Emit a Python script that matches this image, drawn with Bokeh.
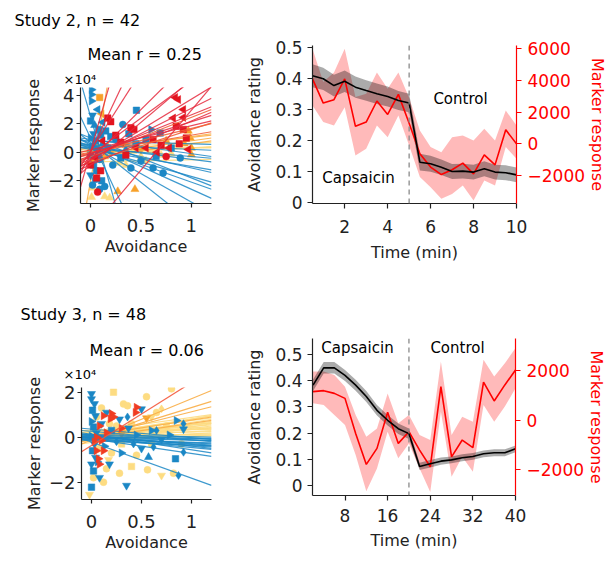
import math
from bokeh.plotting import figure
from bokeh.models import Range1d, LinearAxis, Span, Label, FixedTicker, ColumnDataSource, Title
from bokeh.layouts import column, row
from bokeh.embed import file_html
from bokeh.resources import INLINE

FONT = "DejaVu Sans"

# ---------------- Study 2 time course ----------------
s2_time = [0.5, 1.0, 1.5, 2.0, 2.5, 3.0, 3.5, 4.0, 4.5, 5.0,
           5.5, 6.0, 6.5, 7.0, 7.5, 8.0, 8.5, 9.0, 9.5, 10.0]
s2_avoid = [0.41, 0.40, 0.378, 0.392, 0.373, 0.362, 0.352, 0.343, 0.33, 0.322,
            0.131, 0.126, 0.115, 0.101, 0.102, 0.099, 0.11, 0.099, 0.097, 0.09]
s2_avoid_sem = [0.037, 0.036, 0.035, 0.035, 0.034, 0.033, 0.033, 0.032, 0.031, 0.030,
                0.027, 0.026, 0.025, 0.024, 0.024, 0.024, 0.024, 0.024, 0.024, 0.024]
s2_marker = [4100, 2570, 2780, 4100, 1100, 1370, 2700, 1850, 3120, 1300,
             -630, -1470, -1940, -1640, -1220, -1900, -700, -1330, 880, 0]
s2_marker_lo = [2420, 1370, 1160, 2300, -740, -320, 1160, 420, 1790, -100,
                -2100, -2740, -3470, -3160, -2630, -3580, -2320, -2630, -210, -950]
s2_marker_hi = [6000, 3900, 4500, 6000, 2950, 3150, 4500, 3470, 4500, 2900,
                840, -210, -530, 420, 530, 210, 950, 210, 2100, 1160]

# ---------------- Study 3 time course ----------------
s3_time = [2, 4, 6, 8, 10, 12, 14, 16, 18, 20,
           22, 24, 26, 28, 30, 32, 34, 36, 38, 40]
s3_avoid = [0.383, 0.449, 0.449, 0.42, 0.383, 0.34, 0.287, 0.249, 0.217, 0.198,
            0.073, 0.083, 0.093, 0.098, 0.106, 0.111, 0.121, 0.125, 0.125, 0.14]
s3_avoid_sem = [0.022, 0.022, 0.022, 0.021, 0.021, 0.021, 0.02, 0.02, 0.02, 0.02,
                0.014, 0.014, 0.014, 0.013, 0.013, 0.013, 0.013, 0.013, 0.013, 0.013]
s3_marker = [1140, 1180, 1070, 870, -540, -1785, -1140, 310, -940, -470,
             -1210, -1880, 1340, -1480, -805, -1110, 1520, 765, 1410, 2010]
s3_marker_lo = [670, 600, 200, -200, -1410, -2860, -1950, -470, -1540, -940,
                -1950, -2890, 335, -2280, -1480, -2080, 600, -70, 540, 1275]
s3_marker_hi = [1950, 1950, 1810, 1340, 200, -670, -340, 1070, -130, 200,
                -600, -800, 2350, -600, 130, -70, 2420, 1745, 2280, 2890]

# ---------------- Study 2 per-subject regressions (marker x1e4 vs avoidance) ----------------
tl_red_slope = [4.3, 3.54, 2.85, 6.0, 7.0, 15.0, 11.1, 25.0, 8.4, 2.23, 1.7, 3.08, 5.2]
tl_red_icpt = [-0.57, -0.45, -0.22, -0.9, -0.5, 0.0, 0.11, 0.05, -5.45, -0.08, 0.17, -0.89, -0.2]
tl_ored_slope = [2.77, 1.7, 2.3, 1.2]
tl_ored_icpt = [-0.32, -0.03, -0.7, 0.0]
tl_orange_slope = [1.0, 1.0, 0.77, 1.0, 40.0]
tl_orange_icpt = [0.1, -0.2, 0.28, -0.4, -2.0]
tl_yellow_slope = [0.3, -0.15, 0.46, 0.15, 0.2]
tl_yellow_icpt = [0.33, 0.48, -0.15, -0.68, 0.1]
tl_blue_slope = [-25.0, -15.0, -5.6, -4.0, -3.2, -2.5, -2.0, -1.6, -1.2, -0.9, -0.6, -0.3, -0.2, -1.0, -2.8]
tl_blue_icpt = [2.5, 1.0, 0.69, 0.5, 0.6, 0.4, 0.3, 0.5, 0.2, 0.4, 0.3, 0.5, 0.8, 0.9, 1.0]

# Study 2 points: avoidance, marker (x1e4), marker shape
tl_blue_x = [0.01, 0.01, 0.01, 0.07, 0.02, 0.0, 0.04, 0.08, 0.03, 0.1, 0.0, 0.05, 0.12, 0.02, 0.06, 0.0,
             0.09, 0.03, 0.06, 0.0, 0.05, 0.09, 0.14, 0.11, 0.15, 0.2, 0.25, 0.32, 0.455, 0.38, 0.45, 0.6,
             0.69, 0.55, 0.3, 0.22, 0.4, 0.5, 0.62, 0.72, 0.89, 0.8, 0.65, 0.12, 0.08, 0.17, 0.35, 0.02]
tl_blue_y = [4.4, 4.05, 3.6, 3.0, 2.6, 2.2, 1.9, 1.6, 1.3, 1.2, 1.0, 0.8, 0.6, 0.4, 0.1, -0.2,
             -0.5, -0.9, -1.3, -1.6, -1.9, -2.6, -2.4, -2.0, 1.5, 1.1, 0.9, 1.95, 2.95, 1.3, 0.6, 1.6,
             1.35, 0.9, -0.4, -0.9, -1.1, -0.6, -1.1, -1.45, -0.4, 0.3, -0.3, 2.1, -0.2, 0.3, 0.2, -2.3]
tl_blue_m = "rrrldsusdsrsusdscscdcccsssccsssrsssccccccssllsmc"
tl_red_x = [0.17, 0.2, 0.4, 0.43, 0.84, 0.87, 0.92, 0.82, 0.92, 0.85, 0.92, 0.62, 0.7, 0.78, 0.88,
            0.66, 0.75, 0.55, 0.3, 0.25, 0.12, 0.05, 0.06, 0.1, 0.07, 0.0, 0.35, 0.45, 0.95, 0.97]
tl_red_y = [2.4, 2.15, 1.72, 1.6, 3.85, 3.7, 3.0, 2.4, 2.45, 1.83, 1.6, 0.9, 0.5, 0.3, 0.6,
            0.0, -0.3, 0.3, 0.7, 1.2, 0.8, -0.4, -1.8, -1.3, -2.8, -0.9, -0.2, 0.3, 1.0, 0.2]
tl_red_m = "sssslllllssssls" + "lclssllsscssls" + "l"
tl_orange_x = [0.09, 0.11, 0.06, 0.1, 0.14, 0.17, 0.2, 0.27, 0.44, 0.97, 0.99, 1.0, 1.0, 0.93, 0.0,
               0.03, 0.5, 0.35, 0.75]
tl_orange_y = [3.85, 2.7, 0.5, 0.1, -0.3, 0.4, 0.0, -2.75, -2.6, 1.5, 1.0, 0.3, -0.17, 0.6, 0.2,
               -0.6, 0.2, 0.5, 0.8]
tl_orange_m = "sluuuuduuuuuuuuddu" + "u"
tl_yellow_x = [0.01, 0.14, 0.19, 0.02, 0.29, 0.42, 0.5, 0.6, 0.7, 0.23, 0.08, 0.35, 0.8, 0.55, 0.12]
tl_yellow_y = [-3.15, -3.1, -3.2, -2.5, -0.75, 0.07, -0.3, 0.1, -0.2, 0.0, 0.3, -0.9, -0.1, -0.6, -0.5]
tl_yellow_m = "uuuuuuuuuuuuuud"

# ---------------- Study 3 per-subject regressions ----------------
bl_red_slope = [2.8]
bl_red_icpt = [-0.37]
bl_orange_slope = [1.83, 1.38, 1.12, 0.69, 0.65]
bl_orange_icpt = [-0.12, -0.06, 0.01, 0.07, -0.03]
bl_yellow_slope = [0.62, 0.58, 0.69, 0.5, 0.35, 0.54, 0.27, 0.23, 0.12, 0.23, 0.12, -0.04,
                   0.08, 0.12, 0.69, 0.12, 0.65, 0.69, 0.4, 0.3, 0.45, 0.18, 0.8, 0.05]
bl_yellow_icpt = [0.26, 0.16, -0.03, 0.05, 0.13, -0.15, 0.08, 0.02, 0.11, -0.08, 0.01, 0.15,
                  -0.04, 0.21, -0.23, 0.31, -0.08, 0.12, -0.05, 0.25, 0.1, -0.12, 0.0, 0.3]
bl_blue_slope = [-1.6, -0.38, -0.04, -0.15, -0.23, -0.38, -0.42, -0.69, -0.12, -0.65, -0.15, -0.38,
                 -0.31, -0.08, -0.2, -0.5, -0.1, -0.28]
bl_blue_icpt = [-0.22, 0.36, 0.0, 0.03, -0.02, 0.06, -0.04, 0.13, -0.11, -0.07, 0.09, 0.26,
                0.02, -0.05, -0.15, 0.1, 0.12, -0.1]

bl_blue_x = [0.0, 0.0, 0.03, 0.01, 0.04, 0.0, 0.02, 0.05, 0.0, 0.03, 0.01, 0.04, 0.0, 0.02, 0.06, 0.0,
             0.1, 0.13, 0.18, 0.2, 0.25, 0.28, 0.36, 0.37, 0.3, 0.35, 0.42, 0.45, 0.5, 0.57, 0.62, 0.6,
             0.65, 0.7, 0.84, 0.92, 0.87, 0.85, 0.92, 0.92, 0.78, 0.15, 0.08, 0.5]
bl_blue_y = [1.93, 1.7, 1.48, 1.2, 0.95, 0.7, 0.45, 0.2, 0.05, -0.3, -0.6, -0.9, -1.2, -1.5, -1.1, -2.22,
             0.6, -0.4, -1.2, 0.3, -0.2, 0.8, 0.9, 0.4, -0.7, -2.15, -0.3, 0.1, -0.5, -0.89, -0.44, 0.3,
             0.3, -0.1, -0.96, -0.67, -1.7, 0.74, 0.6, 0.36, 0.1, 1.1, -1.8, 1.25]
bl_blue_m = "dddsdrsdrdsddsrs" + "drdsmdmdrdmrdumrmdsmmrmdrddd"
bl_yellow_x = [0.22, 0.8, 0.32, 0.36, 0.65, 0.7, 0.56, 0.82, -0.02, 0.17, 0.1, 0.05, 0.12, 0.08, 0.2,
               0.25, 0.3, 0.4, 0.45, 0.5, 0.6, 0.75, 0.9, 0.02, 0.15, 0.28, 0.4, 0.6, 0.03, 0.18, 0.7,
               0.55, 0.12]
bl_yellow_y = [2.0, 2.15, 1.48, 1.4, 1.1, 1.26, -1.45, -1.6, -2.55, -1.0, 1.3, 0.9, 0.2, -0.5, -0.7,
               0.5, -0.3, 0.6, -0.8, 0.2, -0.3, 0.5, -0.3, -1.8, -1.4, -1.6, -1.3, 0.9, 0.3, 0.6, -1.7,
               1.8, -2.0]
bl_yellow_m = "sccccmccddcccscc" + "sccsccccccsdccdcc"
bl_red_x = [0.45, 0.2, 0.12, 0.22, 0.44, 0.19, 0.05, 0.07, 0.08, 0.05, 0.1, 0.03, 0.15, 0.12, 0.3, 0.08]
bl_red_y = [1.33, 1.05, 0.95, 0.9, 1.1, 0.82, -0.6, -0.96, -1.2, 0.0, -0.15, -0.2, 0.2, -0.6, 0.4, 0.5]
bl_red_m = "rrrrrrrrrrrrrrrr"
bl_orange_x = [0.55, 0.3]
bl_orange_y = [0.85, 0.15]
bl_orange_m = "dd"

# ---------------- colours ----------------
BLUE = "#1b87c5"
RED = "#e3141f"
RED_LINE = "#e5283c"
ORED = "#f2613a"
ORANGE = "#f7a028"
ORANGE_LINE = "#f9ad45"
YELLOW = "#fddc82"
BL_RED = "#f03c22"
BL_RED_LINE = "#f4573a"

MK = {"u": ("triangle", 0.0), "d": ("inverted_triangle", 0.0), "l": ("triangle", math.pi / 2),
      "r": ("triangle", -math.pi / 2), "s": ("square", 0.0), "c": ("circle", 0.0), "m": ("diamond", 0.0)}
MSIZE = {"triangle": 8, "inverted_triangle": 8, "square": 6.5, "circle": 7, "diamond": 8}


def base_fig(w, h, xr, yr, ml, mr, mt, mb):
    p = figure(width=w, height=h, x_range=Range1d(*xr), y_range=Range1d(*yr),
               output_backend="svg", toolbar_location=None, title=None,
               min_border_left=ml, min_border_right=mr, min_border_top=mt, min_border_bottom=mb)
    p.outline_line_color = None
    p.xgrid.visible = False
    p.ygrid.visible = False
    return p


def style_axis(ax, color, tick_size, label_size, standoff, label_standoff):
    ax.axis_line_color = color
    ax.axis_line_width = 1.2
    ax.major_tick_line_color = color
    ax.major_tick_line_width = 1.2
    ax.minor_tick_line_color = None
    ax.major_tick_in = 0
    ax.major_tick_out = 5
    ax.major_label_text_font = FONT
    ax.major_label_text_font_size = tick_size
    ax.major_label_text_color = color
    ax.major_label_standoff = standoff
    ax.axis_label_text_font = FONT
    ax.axis_label_text_font_size = label_size
    ax.axis_label_text_font_style = "normal"
    ax.axis_label_text_color = color
    ax.axis_label_standoff = label_standoff


class Geo:
    def __init__(self, l, r, t, b, xr, yr):
        self.l, self.r, self.t, self.b, self.xr, self.yr = l, r, t, b, xr, yr

    def x(self, px):
        return self.xr[0] + (px - self.l) / (self.r - self.l) * (self.xr[1] - self.xr[0])

    def y(self, py):
        return self.yr[1] - (py - self.t) / (self.b - self.t) * (self.yr[1] - self.yr[0])


def add_label(p, x, y, text, size="15px", align="center", baseline="middle", color="black"):
    p.add_layout(Label(x=x, y=y, text=text, text_font=FONT, text_font_size=size,
                       text_align=align, text_baseline=baseline, text_color=color))


def add_title(p, text, offset, size, standoff):
    p.add_layout(Title(text=text, align="left", offset=offset, standoff=standoff,
                       text_font=FONT, text_font_size=size, text_font_style="normal",
                       text_color="black"), "above")


def draw_lines(p, slopes, icpts, color, xr, alpha=0.9, width=1.2):
    x0, x1 = xr
    xs = [[x0, x1] for _ in slopes]
    ys = [[a + b * x0, a + b * x1] for b, a in zip(slopes, icpts)]
    p.multi_line(xs, ys, line_color=color, line_width=width, line_alpha=alpha)


def draw_pts(p, xs, ys, ms, color):
    src = ColumnDataSource(dict(x=xs, y=ys,
                                marker=[MK[m][0] for m in ms],
                                angle=[MK[m][1] for m in ms],
                                size=[MSIZE[MK[m][0]] for m in ms]))
    p.scatter("x", "y", source=src, marker="marker", angle="angle", size="size",
              fill_color=color, line_color=color, line_width=0.5)


def style_scatter_axes(p):
    for ax in list(p.xaxis) + list(p.yaxis):
        style_axis(ax, "#222222", "18px", "16px", 4, 4)
    p.xaxis.major_tick_out = 4
    p.yaxis.major_tick_out = 4
    p.xaxis.major_label_standoff = 11
    p.yaxis.major_label_standoff = 2
    p.yaxis.axis_label_standoff = 2
    p.xaxis.axis_label_standoff = 2


# ================= top-left: Study 2 scatter =================
tl_xr, tl_yr = (-0.1, 1.2), (-3.6, 4.55)
tl = base_fig(230, 285, tl_xr, tl_yr, 80, 19, 87, 82)
draw_pts(tl, tl_yellow_x, tl_yellow_y, tl_yellow_m, YELLOW)
draw_lines(tl, tl_yellow_slope, tl_yellow_icpt, YELLOW, tl_xr)
draw_pts(tl, tl_orange_x, tl_orange_y, tl_orange_m, ORANGE)
draw_lines(tl, tl_orange_slope, tl_orange_icpt, ORANGE_LINE, tl_xr)
draw_pts(tl, tl_blue_x, tl_blue_y, tl_blue_m, BLUE)
draw_lines(tl, tl_blue_slope, tl_blue_icpt, BLUE, tl_xr, alpha=0.85)
draw_pts(tl, tl_red_x, tl_red_y, tl_red_m, RED)
draw_lines(tl, tl_ored_slope, tl_ored_icpt, ORED, tl_xr)
draw_lines(tl, tl_red_slope, tl_red_icpt, RED_LINE, tl_xr, alpha=0.85)
tl.xaxis.ticker = FixedTicker(ticks=[0, 0.5, 1])
tl.xaxis.major_label_overrides = {0: "0", 1: "1"}
tl.yaxis.ticker = FixedTicker(ticks=[-2, 0, 2, 4])
tl.xaxis.axis_label = "Avoidance"
tl.yaxis.axis_label = "Marker response"
style_scatter_axes(tl)
add_title(tl, "\u00d710\u2074", -17, "13px", 1)
add_title(tl, "Mean r = 0.25", 7, "16px", 11)
add_title(tl, "Study 2, n = 42", -66, "16px", 16)

# ================= top-right: Study 2 time course =================
tr_g = Geo(312, 516, 45, 203, (0.5, 10), (-0.0023, 0.5074))
tr = base_fig(384, 285, tr_g.xr, tr_g.yr, 82, 98, 45, 82)
tr.extra_y_ranges = {"mk": Range1d(-3767, 6202)}
tr.varea(x=s2_time, y1=s2_marker_lo, y2=s2_marker_hi, fill_color="red", fill_alpha=0.27, y_range_name="mk")
tr.varea(x=s2_time, y1=[m - s for m, s in zip(s2_avoid, s2_avoid_sem)],
         y2=[m + s for m, s in zip(s2_avoid, s2_avoid_sem)], fill_color="black", fill_alpha=0.33)
tr.line(s2_time, s2_marker, line_color="red", line_width=1.6, y_range_name="mk")
tr.line(s2_time, s2_avoid, line_color="black", line_width=1.6)
tr.add_layout(Span(location=5, dimension="height", line_color="#8a8a8a", line_dash="5 4", line_width=1.3))
tr_right = LinearAxis(y_range_name="mk", axis_label="Marker response")
tr.add_layout(tr_right, "right")
tr.xaxis.ticker = FixedTicker(ticks=[2, 4, 6, 8, 10])
tr.yaxis[0].ticker = FixedTicker(ticks=[0, 0.1, 0.2, 0.3, 0.4, 0.5])
tr.yaxis[0].major_label_overrides = {0: "0"}
tr_right.ticker = FixedTicker(ticks=[-2000, 0, 2000, 4000, 6000])
tr.xaxis.axis_label = "Time (min)"
tr.yaxis[0].axis_label = "Avoidance rating"
for ax in list(tr.xaxis) + [tr.yaxis[0]]:
    style_axis(ax, "#222222", "17px", "16px", 5, 8)
style_axis(tr_right, "red", "17px", "16px", 6, 0)
tr.xaxis.major_label_standoff = 11
tr.xaxis.axis_label_standoff = 7
add_label(tr, tr_g.x(460), tr_g.y(98), "Control")
add_label(tr, tr_g.x(358), tr_g.y(177), "Capsaicin")

# ================= bottom-left: Study 3 scatter =================
bl_xr, bl_yr = (-0.1, 1.2), (-2.77, 2.21)
bl = base_fig(230, 276, bl_xr, bl_yr, 81, 19, 102, 62)
draw_pts(bl, bl_yellow_x, bl_yellow_y, bl_yellow_m, YELLOW)
draw_lines(bl, bl_yellow_slope, bl_yellow_icpt, YELLOW, bl_xr)
draw_pts(bl, bl_orange_x, bl_orange_y, bl_orange_m, ORANGE)
draw_lines(bl, bl_orange_slope, bl_orange_icpt, ORANGE_LINE, bl_xr)
draw_pts(bl, bl_blue_x, bl_blue_y, bl_blue_m, BLUE)
draw_lines(bl, bl_blue_slope, bl_blue_icpt, BLUE, bl_xr, alpha=0.85)
draw_pts(bl, bl_red_x, bl_red_y, bl_red_m, BL_RED)
draw_lines(bl, bl_red_slope, bl_red_icpt, BL_RED_LINE, bl_xr)
bl.xaxis.ticker = FixedTicker(ticks=[0, 0.5, 1])
bl.xaxis.major_label_overrides = {0: "0", 1: "1"}
bl.yaxis.ticker = FixedTicker(ticks=[-2, 0, 2])
bl.xaxis.axis_label = "Avoidance"
bl.yaxis.axis_label = "Marker response"
style_scatter_axes(bl)
add_title(bl, "\u00d710\u2074", -18, "13px", 11)
add_title(bl, "Mean r = 0.06", 8, "16px", 0)
add_title(bl, "Study 3, n = 48", -61, "16px", 30)

# ================= bottom-right: Study 3 time course =================
br_g = Geo(312, 515, 338, 495, (1.9, 40), (-0.038, 0.561))
br = base_fig(384, 276, br_g.xr, br_g.yr, 82, 99, 53, 66)
br.extra_y_ranges = {"mk": Range1d(-3034, 3276)}
br.varea(x=s3_time, y1=s3_marker_lo, y2=s3_marker_hi, fill_color="red", fill_alpha=0.27, y_range_name="mk")
br.varea(x=s3_time, y1=[m - s for m, s in zip(s3_avoid, s3_avoid_sem)],
         y2=[m + s for m, s in zip(s3_avoid, s3_avoid_sem)], fill_color="black", fill_alpha=0.33)
br.line(s3_time, s3_marker, line_color="red", line_width=1.6, y_range_name="mk")
br.line(s3_time, s3_avoid, line_color="black", line_width=1.6)
br.add_layout(Span(location=20, dimension="height", line_color="#8a8a8a", line_dash="5 4", line_width=1.3))
br_right = LinearAxis(y_range_name="mk", axis_label="Marker response")
br.add_layout(br_right, "right")
br.xaxis.ticker = FixedTicker(ticks=[8, 16, 24, 32, 40])
br.yaxis[0].ticker = FixedTicker(ticks=[0, 0.1, 0.2, 0.3, 0.4, 0.5])
br.yaxis[0].major_label_overrides = {0: "0"}
br_right.ticker = FixedTicker(ticks=[-2000, 0, 2000])
br.xaxis.axis_label = "Time (min)"
br.yaxis[0].axis_label = "Avoidance rating"
for ax in list(br.xaxis) + [br.yaxis[0]]:
    style_axis(ax, "#222222", "17px", "16px", 5, 8)
style_axis(br_right, "red", "17px", "16px", 6, 0)
br.xaxis.major_label_standoff = 8
br.xaxis.axis_label_standoff = 6
add_label(br, br_g.x(357), br_g.y(347), "Capsaicin")
add_label(br, br_g.x(457), br_g.y(347), "Control")

layout = column(row(column(tl), column(tr)), row(column(bl), column(br)))
open("out.html", "w").write(file_html(layout, INLINE))
